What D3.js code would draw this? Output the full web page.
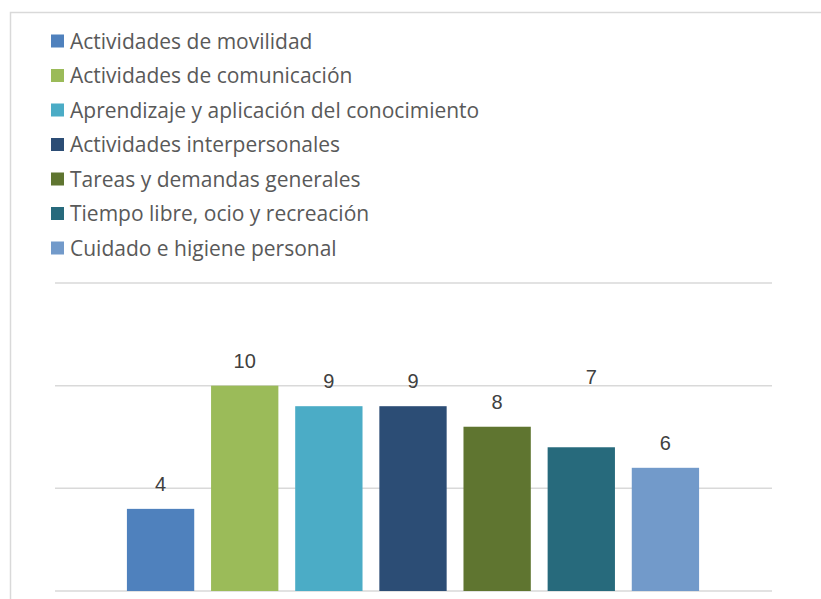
<!DOCTYPE html>
<meta charset="utf-8">
<script src="https://d3js.org/d3.v7.min.js"></script>
<style>
    body { margin: 0; background: #fff; }
</style>
<div id="vis"></div>
<script>
    // data
    var categories = [
        "Actividades de movilidad",
        "Actividades de comunicación",
        "Aprendizaje y aplicación del conocimiento",
        "Actividades interpersonales",
        "Tareas y demandas generales",
        "Tiempo libre, ocio y recreación",
        "Cuidado e higiene personal"
    ];
    var values = [4, 10, 9, 9, 8, 7, 6];
    var colors = ["#4f81bd", "#9bbb59", "#4bacc6", "#2c4d75", "#5f7530", "#276a7c", "#729aca"];
    var gridTicks = [0, 5, 10, 15];

    var W = 821, H = 599;

    var svg = d3.select("#vis")
        .append("svg")
        .attr("width", W)
        .attr("height", H);

    // chart frame (cut off at right and bottom)
    svg.append("rect")
        .attr("x", 10.5)
        .attr("y", 12.5)
        .attr("width", W + 20)
        .attr("height", H + 20)
        .attr("fill", "#fff")
        .attr("stroke", "#d9d9d9")
        .attr("stroke-width", 1.5);

    // scales
    var x = d3.scaleBand()
        .domain(categories)
        .range([118.5, 707.5])
        .paddingInner(0.2)
        .paddingOuter(0.1);

    var y = d3.scaleLinear()
        .domain([0, 15])
        .range([591, 283]);

    // gridlines
    svg.append("g")
        .selectAll("line")
        .data(gridTicks)
        .enter()
        .append("line")
        .attr("x1", 55)
        .attr("x2", 772)
        .attr("y1", function (d) { return y(d); })
        .attr("y2", function (d) { return y(d); })
        .attr("stroke", "#d9d9d9")
        .attr("stroke-width", 1.5);

    // bars
    svg.append("g")
        .selectAll("rect")
        .data(values)
        .enter()
        .append("rect")
        .attr("x", function (d, i) { return x(categories[i]); })
        .attr("y", function (d) { return y(d); })
        .attr("width", x.bandwidth())
        .attr("height", function (d) { return y(0) - y(d); })
        .attr("fill", function (d, i) { return colors[i]; });

    // value labels (the "7" label was dragged up in the original)
    svg.append("g")
        .selectAll("text")
        .data(values)
        .enter()
        .append("text")
        .attr("x", function (d, i) {
            return x(categories[i]) + x.bandwidth() / 2 + (i === 5 ? 10 : 0);
        })
        .attr("y", function (d, i) { return y(d) - 18 - (i === 5 ? 45 : 0); })
        .attr("text-anchor", "middle")
        .style("font-family", "'Liberation Sans Narrow', 'Liberation Sans', sans-serif")
        .style("font-size", "20px")
        .style("fill", "#404040")
        .text(function (d) { return d; });

    // legend
    var leg = svg.append("g")
        .selectAll("g")
        .data(categories)
        .enter()
        .append("g")
        .attr("transform", function (d, i) { return "translate(51," + (41 + i * 34.5) + ")"; });

    leg.append("rect")
        .attr("x", 0)
        .attr("y", -6.5)
        .attr("width", 13)
        .attr("height", 13)
        .attr("fill", function (d, i) { return colors[i]; });

    leg.append("text")
        .attr("x", 19)
        .attr("y", 7.5)
        .style("font-family", "'Open Sans', sans-serif")
        .style("font-size", "21px")
        .style("fill", "#595959")
        .text(function (d) { return d; });
</script>
